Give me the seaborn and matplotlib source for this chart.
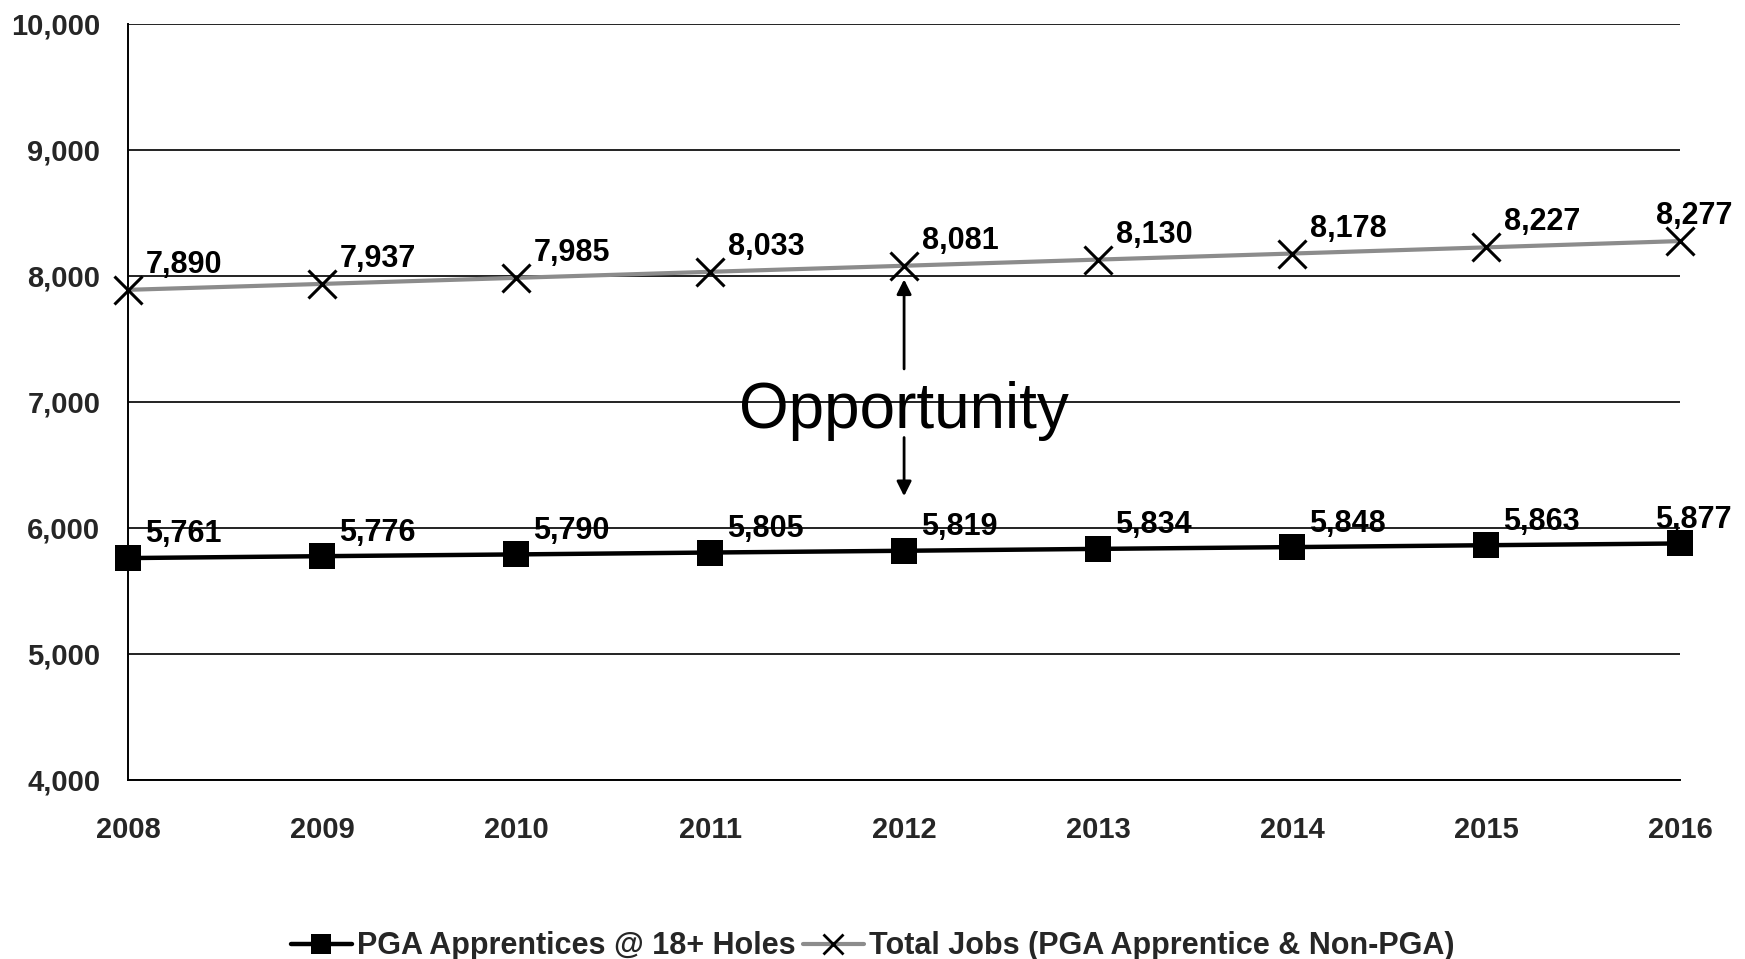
import matplotlib
matplotlib.use("Agg")
import matplotlib.pyplot as plt
import seaborn as sns
import pandas as pd

years = [2008, 2009, 2010, 2011, 2012, 2013, 2014, 2015, 2016]
pga_apprentices = [5761, 5776, 5790, 5805, 5819, 5834, 5848, 5863, 5877]
total_jobs = [7890, 7937, 7985, 8033, 8081, 8130, 8178, 8227, 8277]
y_ticks = [4000, 5000, 6000, 7000, 8000, 9000, 10000]
pga_label = "PGA Apprentices @ 18+ Holes"
total_label = "Total Jobs (PGA Apprentice & Non-PGA)"
gap_text = "Opportunity"
gap_year = 2012

sns.set_theme(style="white")
plt.rcParams["font.family"] = ["Liberation Sans", "DejaVu Sans"]

df = pd.DataFrame({"year": years, "pga": pga_apprentices, "total": total_jobs})

fig = plt.figure(figsize=(17.45, 9.59), dpi=100)
ax = fig.add_axes([0.0734, 0.1867, 0.8894, 0.7883])

# horizontal gridlines
for t in y_ticks:
    ax.axhline(t, color="#222222", lw=1.4, zorder=1)

sns.lineplot(data=df, x="year", y="total", ax=ax, color="#8c8c8c", lw=3.0,
             marker="x", markersize=20, markeredgewidth=2.2,
             markeredgecolor="black", clip_on=False, zorder=3)
sns.lineplot(data=df, x="year", y="pga", ax=ax, color="black", lw=3.2,
             marker="s", markersize=19, markeredgewidth=0,
             markerfacecolor="black", clip_on=False, zorder=3)

# value labels
for i, (x, v) in enumerate(zip(years, total_jobs)):
    last = i == len(years) - 1
    ax.annotate(f"{v:,}", (x, v), xytext=(-17 if last else 13, 18),
                textcoords="offset points", ha="left", va="center",
                fontsize=22, fontweight="bold", color="black", zorder=4)
for i, (x, v) in enumerate(zip(years, pga_apprentices)):
    last = i == len(years) - 1
    ax.annotate(f"{v:,}", (x, v), xytext=(-18 if last else 12, 17),
                textcoords="offset points", ha="left", va="center",
                fontsize=22, fontweight="bold", color="black", zorder=4)

# gap annotation between the two series
ax.text(gap_year, 6790, gap_text, ha="center", va="baseline",
        fontsize=46, color="black", zorder=5)
ax.annotate("", xy=(gap_year, 7995), xytext=(gap_year, 7240),
            arrowprops=dict(arrowstyle="-|>", color="black", lw=2,
                            mutation_scale=22), zorder=5)
ax.annotate("", xy=(gap_year, 6230), xytext=(gap_year, 6740),
            arrowprops=dict(arrowstyle="-|>", color="black", lw=2,
                            mutation_scale=22), zorder=5)

ax.set_xlim(years[0], years[-1])
ax.set_ylim(y_ticks[0], y_ticks[-1])
ax.set_xticks(years)
ax.set_xticklabels([str(y) for y in years])
ax.set_yticks(y_ticks)
ax.set_yticklabels([f"{t:,}" for t in y_ticks])
ax.set_xlabel("")
ax.set_ylabel("")
ax.tick_params(axis="both", which="both", labelsize=21, length=7, width=1.4,
               color="black", direction="out")
ax.tick_params(axis="y", pad=13)
ax.tick_params(axis="x", pad=19)
for lab in ax.get_xticklabels() + ax.get_yticklabels():
    lab.set_fontweight("bold")
ax.spines["top"].set_visible(False)
ax.spines["right"].set_visible(False)
for s in ("left", "bottom"):
    ax.spines[s].set_color("black")
    ax.spines[s].set_linewidth(1.4)
ax.grid(False)

h1 = plt.Line2D([], [], color="black", lw=3.2, marker="s", markersize=15,
                markeredgewidth=0)
h2 = plt.Line2D([], [], color="#8c8c8c", lw=3.0, marker="x", markersize=15,
                markeredgewidth=2, markeredgecolor="black")
leg = fig.legend([h1, h2], [pga_label, total_label], loc="lower center",
                 bbox_to_anchor=(0.5, -0.031), ncol=2, frameon=False,
                 prop={"size": 22, "weight": "bold"}, handlelength=2.0,
                 handletextpad=0.15, columnspacing=0.25)

fig.savefig("out.png", dpi=100)
